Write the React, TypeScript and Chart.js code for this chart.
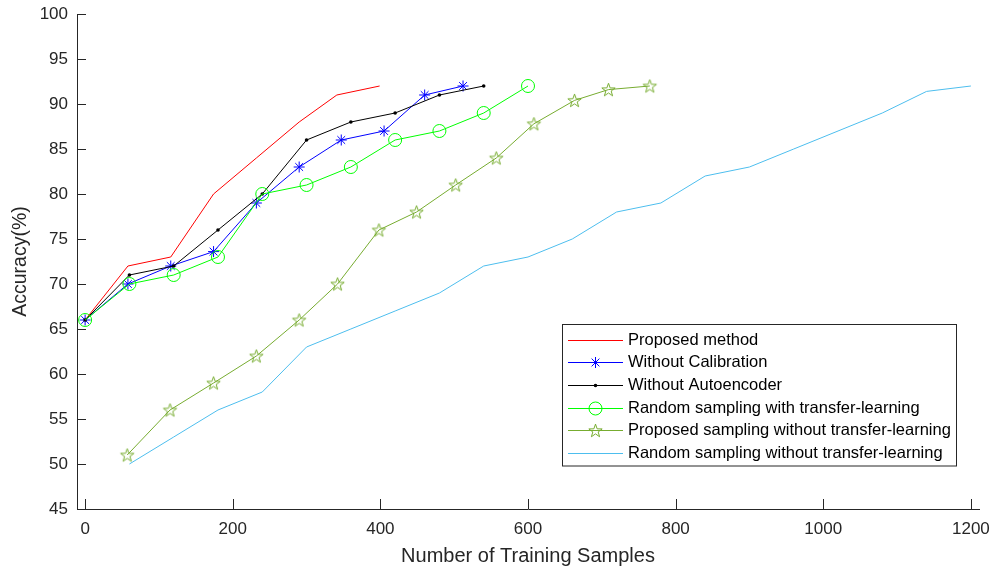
import React, { useEffect, useRef } from "react";
import { Chart, registerables } from "chart.js";

Chart.register(...registerables);

// Accuracy (%) against number of training samples, one pair of arrays per method.
const proposedX = [0, 58, 116, 174, 232, 290, 341, 399];
const proposedY = [66, 72, 73, 80, 84, 88, 91, 92];

const noCalibrationX = [0, 58, 116, 174, 232, 290, 347, 405, 460, 512];
const noCalibrationY = [66, 70, 72, 73.6, 79, 83, 86, 87, 91, 92];

const noAutoencoderX = [0, 60, 120, 180, 240, 300, 360, 420, 480, 540];
const noAutoencoderY = [66, 71, 72, 76, 80, 86, 88, 89, 91, 92];

const randomTransferX = [0, 60, 120, 180, 240, 300, 360, 420, 480, 540, 600];
const randomTransferY = [66, 70, 71, 73, 80, 81, 83, 86, 87, 89, 92];

const proposedNoTransferX = [57, 115, 174, 232, 290, 342, 398, 449, 502, 557, 608, 663, 709, 765];
const proposedNoTransferY = [51, 56, 59, 62, 66, 70, 76, 78, 81, 84, 87.8, 90.4, 91.6, 92];

const randomNoTransferX = [60, 120, 180, 240, 300, 360, 420, 480, 540, 600, 660, 720, 780, 840, 900, 960, 1020, 1080, 1140, 1200];
const randomNoTransferY = [50, 53, 56, 58, 63, 65, 67, 69, 72, 73, 75, 78, 79, 82, 83, 85, 87, 89, 91.4, 92];

const seriesNames = [
  "Proposed method",
  "Without Calibration",
  "Without Autoencoder",
  "Random sampling with transfer-learning",
  "Proposed sampling without transfer-learning",
  "Random sampling without transfer-learning",
];

const xTickValues = [0, 200, 400, 600, 800, 1000, 1200];
const yTickValues = [45, 50, 55, 60, 65, 70, 75, 80, 85, 90, 95, 100];

const RED = "#FF0000";
const BLUE = "#0000FF";
const BLACK = "#000000";
const GREEN = "#00FF00";
const OLIVE = "#77AC30";
const CYAN = "#4DBEEE";
const AXIS = "#262626";
const FONT = "'Liberation Sans', Arial, Helvetica, sans-serif";

function makePentagram(color: string, outer: number): HTMLCanvasElement {
  const size = Math.ceil(outer * 2 + 3);
  const c = document.createElement("canvas");
  c.width = size;
  c.height = size;
  const ctx = c.getContext("2d")!;
  const cx = size / 2;
  const cy = size / 2 + 0.6;
  const inner = outer * 0.4;
  ctx.beginPath();
  for (let i = 0; i < 10; i++) {
    const r = i % 2 === 0 ? outer : inner;
    const a = -Math.PI / 2 + (i * Math.PI) / 5;
    const px = cx + r * Math.cos(a);
    const py = cy + r * Math.sin(a);
    if (i === 0) ctx.moveTo(px, py);
    else ctx.lineTo(px, py);
  }
  ctx.closePath();
  ctx.strokeStyle = color;
  ctx.lineWidth = 1;
  ctx.stroke();
  return c;
}

function pts(xs: number[], ys: number[]) {
  return xs.map((x, i) => ({ x, y: ys[i] }));
}

// Legend marker in the same style as the plotted points
function drawLegendMarker(ctx: CanvasRenderingContext2D, ds: any, x: number, y: number) {
  const style = ds.pointStyle;
  const r = ds.pointRadius;
  if (style instanceof HTMLCanvasElement) {
    ctx.drawImage(style, x - style.width / 2, y - style.height / 2);
    return;
  }
  ctx.save();
  if (style === "star") {
    ctx.strokeStyle = ds.pointBorderColor;
    ctx.lineWidth = ds.pointBorderWidth;
    ctx.beginPath();
    const d = r * Math.SQRT1_2;
    ctx.moveTo(x - r, y);
    ctx.lineTo(x + r, y);
    ctx.moveTo(x, y - r);
    ctx.lineTo(x, y + r);
    ctx.moveTo(x - d, y - d);
    ctx.lineTo(x + d, y + d);
    ctx.moveTo(x - d, y + d);
    ctx.lineTo(x + d, y - d);
    ctx.stroke();
  } else {
    ctx.beginPath();
    ctx.arc(x, y, r, 0, Math.PI * 2);
    if (ds.pointBorderWidth > 0) {
      ctx.strokeStyle = ds.pointBorderColor;
      ctx.lineWidth = ds.pointBorderWidth;
      ctx.stroke();
    } else {
      ctx.fillStyle = ds.pointBackgroundColor;
      ctx.fill();
    }
  }
  ctx.restore();
}

export default function App() {
  const ref = useRef<HTMLCanvasElement>(null);

  useEffect(() => {
    document.body.style.margin = "0";
    const pentagram = makePentagram(OLIVE, 7);

    const datasets: any[] = [
      {
        label: seriesNames[0],
        data: pts(proposedX, proposedY),
        borderColor: RED,
        borderWidth: 1,
        pointRadius: 0,
        order: 5,
      },
      {
        label: seriesNames[1],
        data: pts(noCalibrationX, noCalibrationY),
        borderColor: BLUE,
        borderWidth: 1,
        pointStyle: "star",
        pointRadius: 5.5,
        pointBorderWidth: 1,
        pointBorderColor: BLUE,
        pointBackgroundColor: BLUE,
        order: 4,
      },
      {
        label: seriesNames[2],
        data: pts(noAutoencoderX, noAutoencoderY),
        borderColor: BLACK,
        borderWidth: 1,
        pointStyle: "circle",
        pointRadius: 1.8,
        pointBorderWidth: 0,
        pointBorderColor: BLACK,
        pointBackgroundColor: BLACK,
        order: 3,
      },
      {
        label: seriesNames[3],
        data: pts(randomTransferX, randomTransferY),
        borderColor: GREEN,
        borderWidth: 1,
        pointStyle: "circle",
        pointRadius: 6.5,
        pointBorderWidth: 1,
        pointBorderColor: GREEN,
        pointBackgroundColor: "rgba(0,0,0,0)",
        order: 2,
      },
      {
        label: seriesNames[4],
        data: pts(proposedNoTransferX, proposedNoTransferY),
        borderColor: OLIVE,
        borderWidth: 1,
        pointStyle: pentagram,
        pointRadius: 7,
        order: 1,
      },
      {
        label: seriesNames[5],
        data: pts(randomNoTransferX, randomNoTransferY),
        borderColor: CYAN,
        borderWidth: 1,
        pointRadius: 0,
        order: 0,
      },
    ];

    // Inward tick marks on the two axes
    const tickMarks = {
      id: "tickMarks",
      afterDraw(chart: any) {
        const { ctx, chartArea, scales } = chart;
        ctx.save();
        ctx.strokeStyle = AXIS;
        ctx.lineWidth = 1;
        ctx.beginPath();
        for (const t of scales.x.ticks) {
          const px = Math.round(scales.x.getPixelForValue(t.value)) + 0.5;
          ctx.moveTo(px, chartArea.bottom);
          ctx.lineTo(px, chartArea.bottom - 10);
        }
        for (const t of scales.y.ticks) {
          const py = Math.round(scales.y.getPixelForValue(t.value)) + 0.5;
          ctx.moveTo(chartArea.left, py);
          ctx.lineTo(chartArea.left + 9, py);
        }
        ctx.stroke();
        ctx.restore();
      },
    };

    // Boxed legend inside the plot area
    const legendBox = {
      id: "legendBox",
      afterDraw(chart: any) {
        const { ctx } = chart;
        const left = 562.5;
        const top = 324.5;
        const w = 394;
        const h = 141.5;
        ctx.save();
        ctx.fillStyle = "#FFFFFF";
        ctx.fillRect(left, top, w, h);
        ctx.strokeStyle = AXIS;
        ctx.lineWidth = 1;
        ctx.strokeRect(left, top, w, h);
        const rowY0 = 339.5;
        const rowGap = 22.7;
        const lineX0 = 568;
        const lineX1 = 623;
        const mx = (lineX0 + lineX1) / 2;
        chart.data.datasets.forEach((ds: any, i: number) => {
          const y = Math.round(rowY0 + i * rowGap) + 0.5;
          ctx.strokeStyle = ds.borderColor;
          ctx.lineWidth = 1;
          ctx.beginPath();
          ctx.moveTo(lineX0, y);
          ctx.lineTo(lineX1, y);
          ctx.stroke();
          if (ds.pointRadius > 0) drawLegendMarker(ctx, ds, mx, y);
          ctx.fillStyle = "#000000";
          ctx.font = `16.5px ${FONT}`;
          ctx.textBaseline = "middle";
          ctx.textAlign = "left";
          ctx.fillText(ds.label, 628, y);
        });
        ctx.restore();
      },
    };

    const chart = new Chart(ref.current!, {
      type: "line",
      data: { datasets },
      plugins: [tickMarks, legendBox],
      options: {
        animation: false,
        responsive: false,
        devicePixelRatio: 1,
        layout: { padding: { left: 0, top: 14, right: 16, bottom: 0 } },
        plugins: {
          legend: { display: false },
          tooltip: { enabled: false },
        },
        elements: { line: { tension: 0 } },
        scales: {
          x: {
            type: "linear",
            min: -11,
            max: 1211,
            grid: { display: false, drawTicks: false },
            border: { display: true, color: AXIS, width: 1 },
            afterBuildTicks(scale: any) {
              scale.ticks = xTickValues.map((value) => ({ value }));
            },
            ticks: {
              color: AXIS,
              padding: 10,
              font: { family: FONT, size: 17 },
              maxRotation: 0,
              autoSkip: false,
              callback: (v: any) => String(v),
            },
            title: {
              display: true,
              text: "Number of Training Samples",
              color: AXIS,
              font: { family: FONT, size: 20 },
              padding: { top: 0, bottom: 0 },
            },
            afterFit(scale: any) {
              scale.height = 59;
              scale.paddingLeft = 0;
              scale.paddingRight = 0;
            },
          },
          y: {
            type: "linear",
            min: 45,
            max: 100,
            grid: { display: false, drawTicks: false },
            border: { display: true, color: AXIS, width: 1 },
            afterBuildTicks(scale: any) {
              scale.ticks = yTickValues.map((value) => ({ value }));
            },
            ticks: {
              color: AXIS,
              padding: 9,
              font: { family: FONT, size: 17 },
              autoSkip: false,
              callback: (v: any) => String(v),
            },
            title: {
              display: true,
              text: "Accuracy(%)",
              color: AXIS,
              font: { family: FONT, size: 19.5 },
              padding: { top: 9, bottom: 0 },
            },
            afterFit(scale: any) {
              scale.width = 77;
              scale.paddingTop = 0;
              scale.paddingBottom = 0;
            },
          },
        },
      } as any,
    });

    return () => chart.destroy();
  }, []);

  return (
    <div style={{ position: "fixed", left: 0, top: 0, width: 995, height: 568, background: "#FFFFFF" }}>
      <canvas ref={ref} width={995} height={568} style={{ display: "block" }} />
    </div>
  );
}
